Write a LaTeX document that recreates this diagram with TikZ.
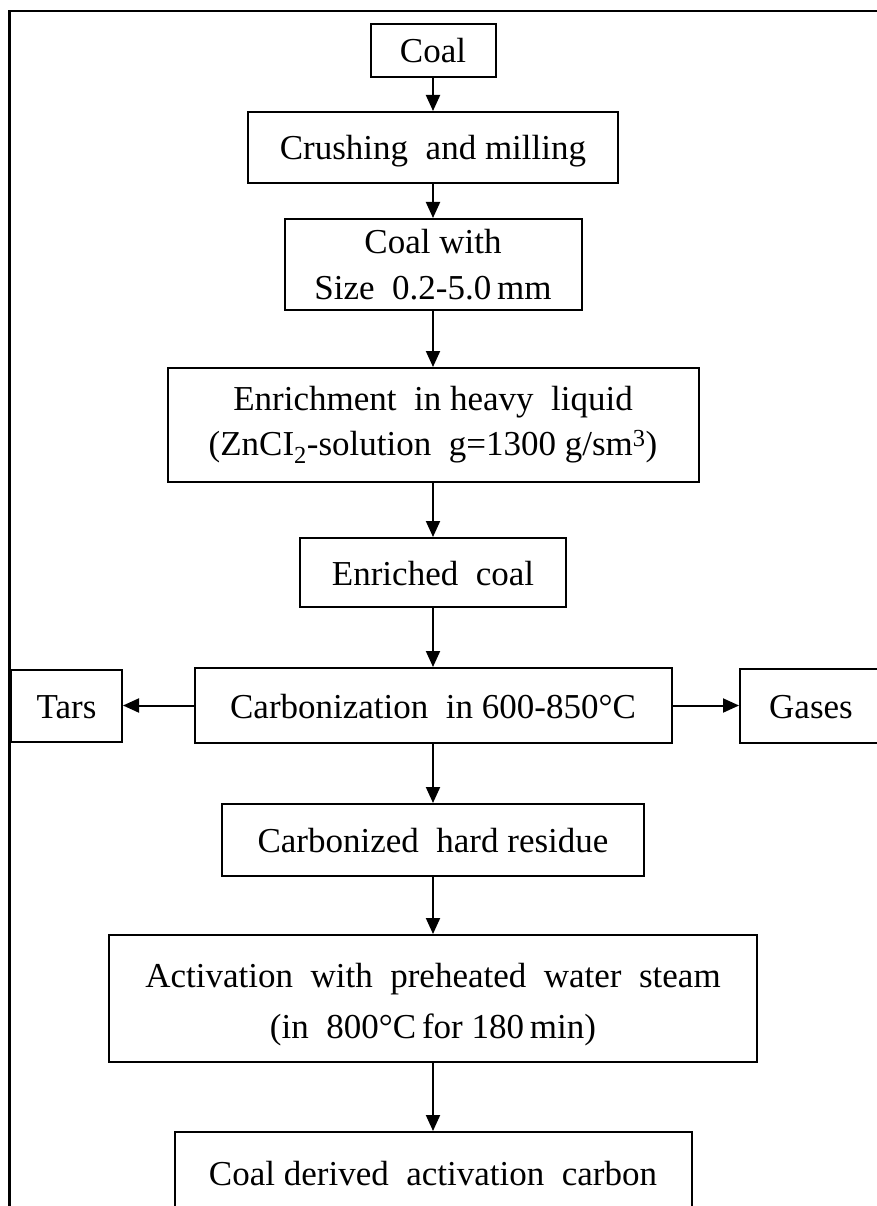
\documentclass[tikz,border=0pt]{standalone}
\usepackage{fontspec}
\setmainfont{Liberation Serif}
\usetikzlibrary{arrows.meta}
\begin{document}
\begin{tikzpicture}[x=1pt,y=-1pt,
  box/.style={draw, line width=2pt, inner sep=0pt, align=center,
    font=\fontsize{35}{46}\selectfont},
  one/.style={text height=25pt, text depth=0pt},
  arr/.style={line width=2pt, -{Triangle[length=16pt,width=14pt]}}]
\useasboundingbox (0,0) rectangle (876,1206);
\fill[white] (0,0) rectangle (876,1206);
\draw[line width=2.5pt] (880,11) -- (9.5,11) -- (9.5,1212);
\node[box, one, minimum width=125pt, minimum height=53pt] (coal) at (433,50.5) {Coal};
\node[box, one, minimum width=370pt, minimum height=71pt] (crush) at (433,147.5) {Crushing~ and milling};
\node[box, minimum width=297pt, minimum height=91pt] (size) at (433,264.5) {Coal with\\Size~ 0.2-5.0\,mm};
\node[box, minimum width=531pt, minimum height=114pt] (enrich) at (433,425) {Enrichment~ in heavy~ liquid\\[-1pt](ZnCI\textsubscript{2}-solution~ g=1300 g/sm\textsuperscript{3})};
\node[box, one, minimum width=266pt, minimum height=69pt] (enriched) at (433,572.5) {Enriched~ coal};
\node[box, one, minimum width=477pt, minimum height=75pt] (carb) at (433,705.5) {Carbonization~ in 600-850°C};
\node[box, one, minimum width=111pt, minimum height=72pt] (tars) at (66.5,705.5) {Tars};
\node[box, one, minimum width=142pt, minimum height=74pt] (gases) at (811,705.5) {Gases};
\node[box, one, minimum width=422pt, minimum height=72pt] (resid) at (433,840) {Carbonized~ hard residue};
\node[box, minimum width=648pt, minimum height=127pt] (activ) at (433,998.5) {\rule{0pt}{36pt}Activation~ with~ preheated~ water~ steam\\[5pt](in~ 800°C\,for 180\,min)};
\node[box, one, minimum width=517pt, minimum height=82pt] (final) at (433,1173) {Coal derived~ activation~ carbon};
\draw[arr] (coal) -- (crush);
\draw[arr] (crush) -- (size);
\draw[arr] (size) -- (enrich);
\draw[arr] (enrich) -- (enriched);
\draw[arr] (enriched) -- (carb);
\draw[arr] (carb) -- (tars);
\draw[arr] (carb) -- (gases);
\draw[arr] (carb) -- (resid);
\draw[arr] (resid) -- (activ);
\draw[arr] (activ) -- (final);
\end{tikzpicture}
\end{document}
